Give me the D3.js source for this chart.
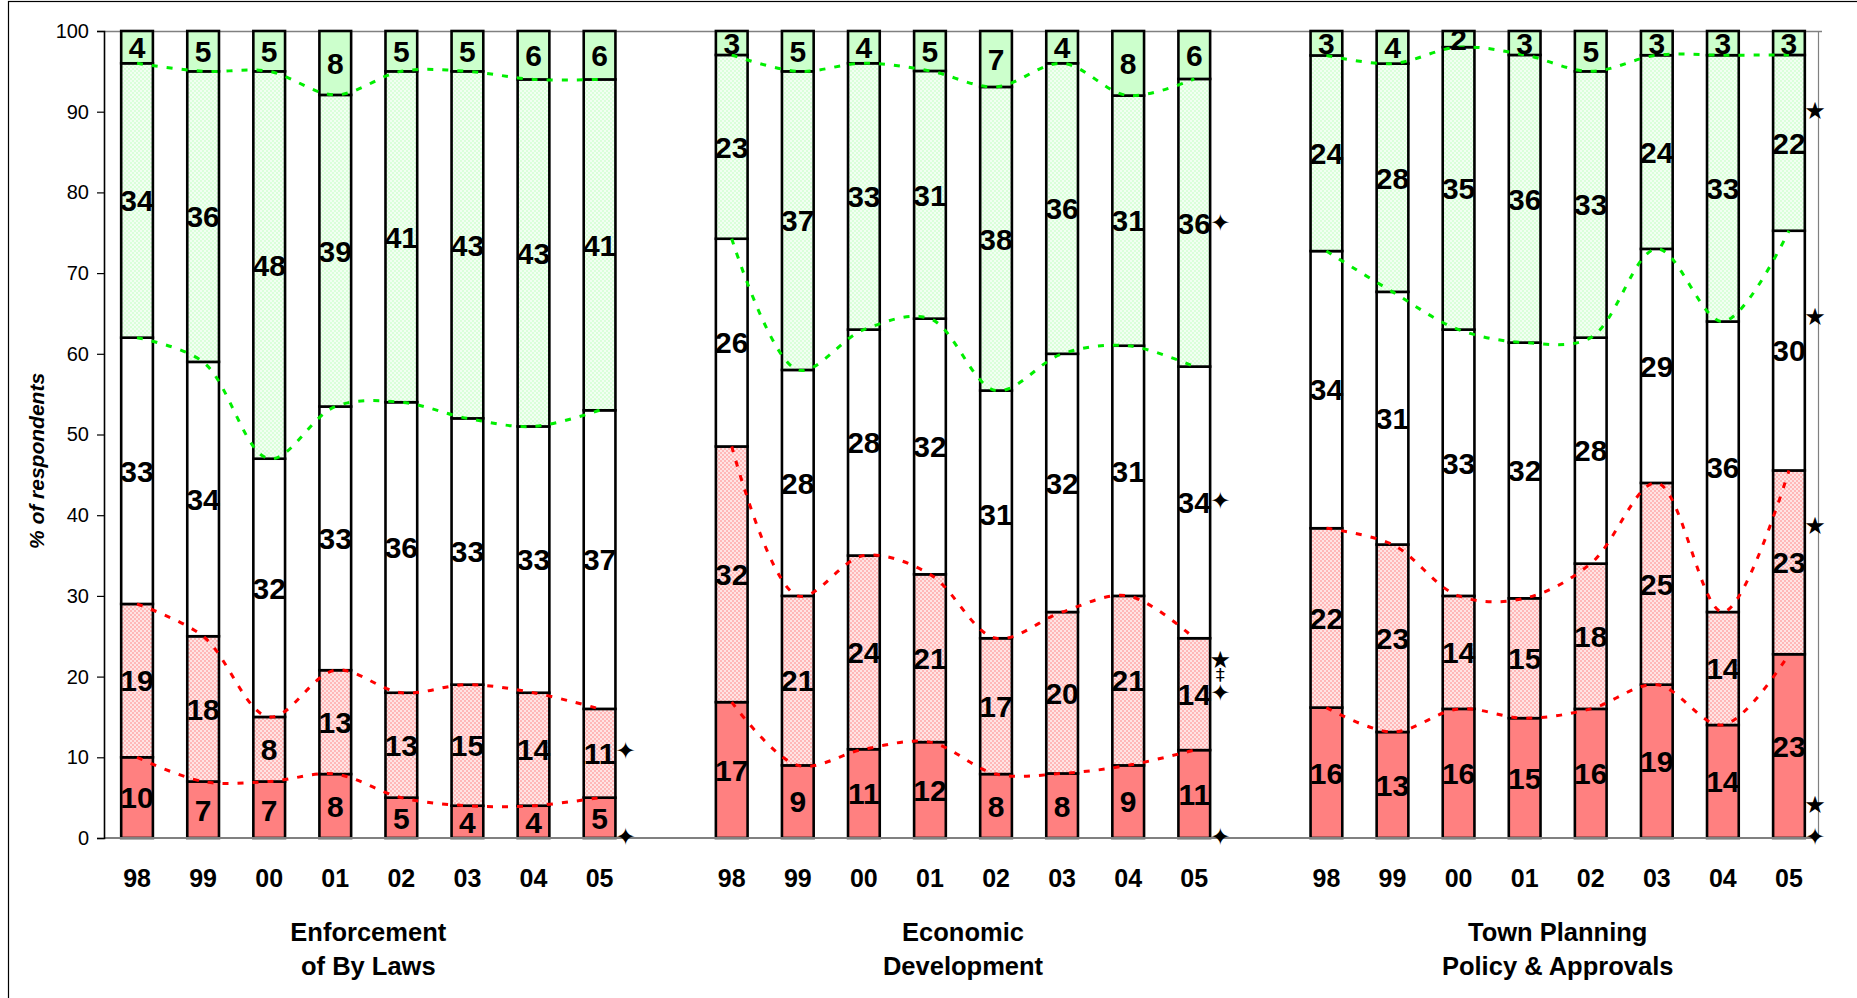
<!DOCTYPE html>
<html>
<head>
<meta charset="utf-8">
<script src="https://cdn.jsdelivr.net/npm/d3@7"></script>
<style>
  html, body { margin: 0; padding: 0; background: #fff; }
  svg { display: block; font-family: "Liberation Sans", Arial, sans-serif; }
</style>
</head>
<body>
<svg id="chart" width="1857" height="998"></svg>
<script>
// Survey years shown under each bar
const years = ["98", "99", "00", "01", "02", "03", "04", "05"];

// Service areas (two-line titles)
const groupTitles = [
  ["Enforcement", "of By Laws"],
  ["Economic", "Development"],
  ["Town Planning", "Policy & Approvals"]
];

// Percent of respondents per rating, one row per service area, bottom of stack first
const veryDissatisfied = [
  [10, 7, 7, 8, 5, 4, 4, 5],
  [17, 9, 11, 12, 8, 8, 9, 11],
  [16, 13, 16, 15, 16, 19, 14, 23]
];
const dissatisfied = [
  [19, 18, 8, 13, 13, 15, 14, 11],
  [32, 21, 24, 21, 17, 20, 21, 14],
  [22, 23, 14, 15, 18, 25, 14, 23]
];
const neutral = [
  [33, 34, 32, 33, 36, 33, 33, 37],
  [26, 28, 28, 32, 31, 32, 31, 34],
  [34, 31, 33, 32, 28, 29, 36, 30]
];
const satisfied = [
  [34, 36, 48, 39, 41, 43, 43, 41],
  [23, 37, 33, 31, 38, 36, 31, 36],
  [24, 28, 35, 36, 33, 24, 33, 22]
];
const verySatisfied = [
  [4, 5, 5, 8, 5, 5, 6, 6],
  [3, 5, 4, 5, 7, 4, 8, 6],
  [3, 4, 2, 3, 5, 3, 3, 3]
];

// Y axis ticks
const yTicks = [0, 10, 20, 30, 40, 50, 60, 70, 80, 90, 100];

// Significance symbols beside the latest year of each area
const markerGroup  = [0, 0, 1, 1, 1, 1, 1, 1, 2, 2, 2, 2, 2];
const markerValue  = [10.8, 0.2, 76.3, 41.8, 22.1, 20.3, 18.1, 0.2, 90.2, 64.7, 38.7, 4.2, 0.2];
const markerSymbol = ["✦", "✦", "✦", "✦", "★", "‡", "✦", "✦", "★", "★", "★", "★", "✦"];

const seriesList = [veryDissatisfied, dissatisfied, neutral, satisfied, verySatisfied];
const seriesFill = ["#FF8080", "url(#patRed)", "#FFFFFF", "url(#patGreen)", "#CCFFCC"];
// Boundary lines between stacked ratings: [index of cumulative boundary, colour]
const boundaryLines = [[1, "#FF0000"], [2, "#FF0000"], [3, "#00EE00"], [4, "#00EE00"]];

const svg = d3.select("#chart");
const defs = svg.append("defs");

function ditherPattern(id, bg, dot) {
  const p = defs.append("pattern").attr("id", id)
    .attr("patternUnits", "userSpaceOnUse").attr("width", 4).attr("height", 4);
  p.append("rect").attr("width", 4).attr("height", 4).attr("fill", bg);
  p.append("rect").attr("x", 0).attr("y", 0).attr("width", 2).attr("height", 2).attr("fill", dot);
  p.append("rect").attr("x", 2).attr("y", 2).attr("width", 2).attr("height", 2).attr("fill", dot);
}
ditherPattern("patRed", "#FFE4E4", "#FFB8B8");
ditherPattern("patGreen", "#F2FFF2", "#DAFFDA");

// Outer chart frame
svg.append("rect").attr("x", 8.5).attr("y", 1.5).attr("width", 1900).attr("height", 1100)
  .attr("fill", "none").attr("stroke", "#000").attr("stroke-width", 1.2);

const plot = { left: 104, right: 1822, top: 31, bottom: 838 };

// One slot per bar, with an empty slot between service areas
const slots = [];
groupTitles.forEach((g, gi) => {
  if (gi > 0) slots.push("gap" + gi);
  years.forEach(y => slots.push(gi + "-" + y));
});

const x = d3.scaleBand().domain(slots).range([plot.left, plot.right])
  .paddingInner(0.52).paddingOuter(0.26);
const y = d3.scaleLinear().domain([0, 100]).range([plot.bottom, plot.top]);
const cx = (gi, yi) => x(gi + "-" + years[yi]) + x.bandwidth() / 2;

// Build normalised stacks (each bar fills 100%)
const stacks = groupTitles.map((g, gi) => years.map((yr, yi) => {
  const vals = seriesList.map(s => s[gi][yi]);
  const total = d3.sum(vals);
  let acc = 0;
  const cum = [0];
  vals.forEach(v => { acc += v; cum.push(acc / total * 100); });
  return { vals, cum };
}));

// Plot frame: top and right edges
svg.append("line").attr("x1", plot.left).attr("x2", plot.right)
  .attr("y1", plot.top + 0.5).attr("y2", plot.top + 0.5)
  .attr("stroke", "#808080").attr("stroke-width", 1.5);
svg.append("line").attr("x1", plot.right - 3.5).attr("x2", plot.right - 3.5)
  .attr("y1", plot.top).attr("y2", plot.bottom)
  .attr("stroke", "#808080").attr("stroke-width", 1.2);

// Bars
const barG = svg.append("g");
stacks.forEach((grp, gi) => grp.forEach((bar, yi) => {
  seriesList.forEach((s, si) => {
    barG.append("rect")
      .attr("x", x(gi + "-" + years[yi]))
      .attr("width", x.bandwidth())
      .attr("y", y(bar.cum[si + 1]))
      .attr("height", y(bar.cum[si]) - y(bar.cum[si + 1]))
      .attr("fill", seriesFill[si])
      .attr("stroke", "#000").attr("stroke-width", 2.6);
  });
}));

// Baseline
svg.append("line").attr("x1", plot.left).attr("x2", plot.right - 3.5)
  .attr("y1", plot.bottom).attr("y2", plot.bottom)
  .attr("stroke", "#808080").attr("stroke-width", 2);

// Dashed boundary trend lines within each area
const lineGen = d3.line().curve(d3.curveCatmullRom.alpha(0.5));
stacks.forEach((grp, gi) => {
  boundaryLines.forEach(([bi, col]) => {
    const pts = grp.map((bar, yi) => [cx(gi, yi), y(bar.cum[bi])]);
    svg.append("path").attr("d", lineGen(pts))
      .attr("fill", "none").attr("stroke", col)
      .attr("stroke-width", 3).attr("stroke-dasharray", "6,9");
  });
});

// Y axis
const yAxis = d3.axisLeft(y).tickValues(yTicks).tickSize(7).tickPadding(8).tickFormat(d3.format("d"));
const yAxisG = svg.append("g").attr("transform", `translate(${plot.left},0)`).call(yAxis);
yAxisG.select(".domain").attr("stroke", "#000").attr("stroke-width", 1.6);
yAxisG.selectAll(".tick line").attr("stroke", "#000").attr("stroke-width", 1.2);
yAxisG.selectAll(".tick text").attr("font-size", 20).attr("fill", "#000")
  .attr("font-family", "'Liberation Sans', Arial, sans-serif");

svg.append("text")
  .attr("transform", "translate(44,461) rotate(-90)")
  .attr("text-anchor", "middle")
  .attr("font-size", 21).attr("font-weight", "bold").attr("font-style", "italic")
  .text("% of respondents");

// Value labels in the middle of each segment
const labelG = svg.append("g").attr("font-size", 30).attr("font-weight", "bold")
  .attr("text-anchor", "middle");
stacks.forEach((grp, gi) => grp.forEach((bar, yi) => {
  bar.vals.forEach((v, si) => {
    labelG.append("text")
      .attr("x", cx(gi, yi))
      .attr("y", y((bar.cum[si] + bar.cum[si + 1]) / 2))
      .attr("dy", "0.36em")
      .text(v);
  });
}));

// Year labels
const yearG = svg.append("g").attr("font-size", 25).attr("font-weight", "bold")
  .attr("text-anchor", "middle");
groupTitles.forEach((g, gi) => years.forEach((yr, yi) => {
  yearG.append("text").attr("x", cx(gi, yi)).attr("y", 887).text(yr);
}));

// Area titles
const titleG = svg.append("g").attr("font-size", 25.5).attr("font-weight", "bold")
  .attr("text-anchor", "middle");
groupTitles.forEach((lines, gi) => {
  const mid = (cx(gi, 0) + cx(gi, years.length - 1)) / 2;
  lines.forEach((ln, li) => {
    titleG.append("text").attr("x", mid).attr("y", 941 + li * 34).text(ln);
  });
});

// Significance markers
const markG = svg.append("g").attr("font-family", "'DejaVu Sans', sans-serif")
  .attr("text-anchor", "middle").attr("font-size", 24);
markerValue.forEach((v, i) => {
  const gi = markerGroup[i];
  markG.append("text")
    .attr("x", cx(gi, years.length - 1) + 26)
    .attr("y", y(v)).attr("dy", "0.36em")
    .attr("font-size", markerSymbol[i] === "‡" ? 18 : null)
    .text(markerSymbol[i]);
});
</script>
</body>
</html>
